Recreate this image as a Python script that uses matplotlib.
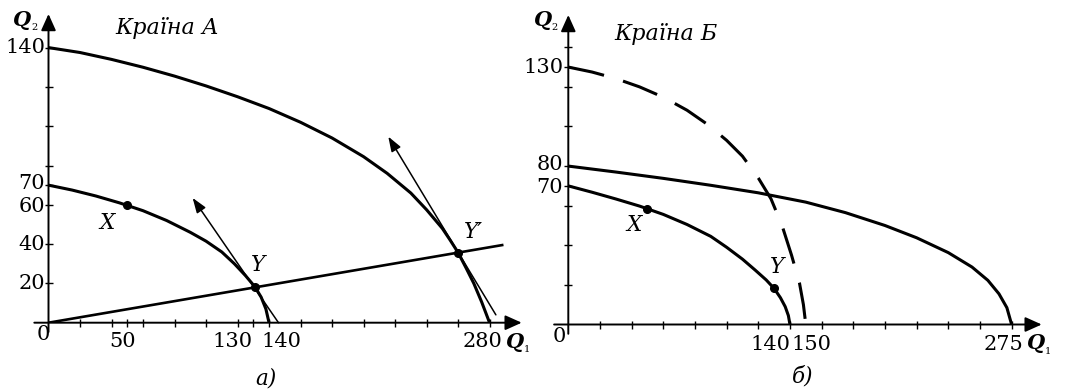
import matplotlib.pyplot as plt

# ---- data ----
# panel a) country A
a_inner_q1 = [0, 15, 30, 45, 60, 75, 90, 100, 110, 118, 125, 131, 135, 138, 140]
a_inner_q2 = [70, 67.5, 64.5, 61, 57, 52, 46, 41.5, 36, 30, 24, 18.3, 13, 7, 0]
a_outer_q1 = [0, 20, 40, 60, 80, 100, 120, 140, 160, 180, 200, 215, 230, 240, 250,
              255, 260, 265, 270, 275, 280]
a_outer_q2 = [140, 137.5, 134, 130, 125.5, 120.5, 115, 109, 102, 94, 84.5, 76, 66, 57.5, 48,
              42, 35.7, 28, 20, 10.5, 0]
a_ray_q1 = [0, 288]
a_ray_q2 = [0, 39.5]
a_tan_inner = [(146, 0), (91.5, 63.5)]
a_tan_outer = [(284, 4), (215.7, 94.7)]
a_points = {"X": (50, 59.7), "Y": (131, 18.3), "Y'": (260, 35.7)}
a_xticks = [20, 40, 50, 60, 80, 100, 120, 130, 140, 160, 180, 200, 220, 240, 260, 280]
a_yticks = [20, 40, 60, 70, 80, 100, 120, 140]
a_xlabels = [50, 130, 140, 280]
a_ylabels = [20, 40, 60, 70, 140]

# panel б) country Б
b_inner_q1 = [0, 15, 30, 45, 60, 75, 90, 100, 110, 118, 125, 130, 134, 137, 139, 140]
b_inner_q2 = [70, 66.8, 63.4, 59.8, 55.6, 50.5, 44.5, 39, 33, 27.5, 22.5, 18.2, 13.5, 9, 4.5, 0]
b_outer_q1 = [0, 30, 60, 90, 120, 150, 175, 200, 220, 240, 255, 265, 272, 277, 280]
b_outer_q2 = [80, 77, 73.8, 70.3, 66.5, 61.8, 56.5, 50, 43.8, 36.3, 29, 22.3, 15.5, 8.5, 0]
b_dash_q1 = [0, 15, 30, 45, 60, 75, 88, 100, 110, 120, 128, 135, 141, 146, 148.5, 150]
b_dash_q2 = [130, 127.5, 124.2, 120, 114.8, 108.2, 101, 93, 85, 74, 63.5, 50, 35, 21, 10, 0]
b_points = {"X": (50, 58.3), "Y": (130, 18.2)}
b_xticks = [20, 40, 60, 80, 100, 120, 140, 160, 180, 200, 220, 240, 260, 280]
b_yticks = [20, 40, 60, 70, 80, 100, 120, 130, 140]
b_xlabels = [140, 150, 275]
b_ylabels = [70, 80, 130]

W, H = 1068, 390
SERIF = "DejaVu Serif"
TICK_FS = 15


def px(x, y):
    return x / W, 1 - y / H


def setup_axes(fig, x0, y0, x1, y1, xmax, ymax):
    # axes box runs from the origin to the arrow tips (pixel coords)
    ax = fig.add_axes([x0 / W, 1 - y0 / H, (x1 - x0) / W, (y0 - y1) / H])
    ax.set_xlim(0, xmax)
    ax.set_ylim(0, ymax)
    for s in ax.spines.values():
        s.set_visible(False)
    arrow = dict(arrowstyle="-|>,head_length=1.0,head_width=0.45",
                 color="k", lw=1.4, shrinkA=0, shrinkB=0)
    ax.annotate("", xy=(xmax, 0), xytext=(-xmax * 0.03, 0),
                arrowprops=arrow, annotation_clip=False)
    ax.annotate("", xy=(0, ymax), xytext=(0, -ymax * 0.03),
                arrowprops=arrow, annotation_clip=False)
    ax.tick_params(direction="inout", length=6, width=1,
                   labelbottom=False, labelleft=False)
    ax.patch.set_alpha(0)
    return ax


def tick_label(ax, text, xy, dx, dy, ha="center"):
    # offsets given in pixels
    ax.annotate(text, xy=xy, xytext=(dx * 0.72, -dy * 0.72),
                textcoords="offset points", ha=ha, va="center",
                fontsize=TICK_FS, family=SERIF, annotation_clip=False)


def point_label(ax, text, xy):
    ax.text(xy[0], xy[1], text, fontsize=15.5, family=SERIF, style="italic",
            ha="center", va="center")


def q_label(fig, x, y, sub):
    fig.text(*px(x, y), "Q", fontsize=15, family=SERIF, style="italic",
             weight="bold", ha="center", va="center")
    fig.text(*px(x + 12, y + 8), sub, fontsize=7, family=SERIF,
             ha="center", va="center")


fig = plt.figure(figsize=(W / 100, H / 100), dpi=100)

curve = dict(color="k", lw=2.2, solid_capstyle="butt", solid_joinstyle="round")
thin_arrow = dict(arrowstyle="-|>,head_length=0.9,head_width=0.32",
                  color="k", lw=1.1, shrinkA=0, shrinkB=0)

# ---------------- panel a) ----------------
ax = setup_axes(fig, 48.5, 322.7, 521.7, 14, 300.4, 157.1)
ax.set_xticks(a_xticks)
ax.set_yticks(a_yticks)
ax.plot(a_inner_q1, a_inner_q2, **curve)
ax.plot(a_outer_q1, a_outer_q2, **curve)
ax.plot(a_ray_q1, a_ray_q2, color="k", lw=1.9)
for tan in (a_tan_inner, a_tan_outer):
    ax.annotate("", xy=tan[1], xytext=tan[0], arrowprops=thin_arrow)
for name, (q1, q2) in a_points.items():
    ax.plot(q1, q2, "o", color="k", ms=5.5)
point_label(ax, "X", (37, 50.5))
point_label(ax, "Y", (133, 29.2))
point_label(ax, "Y\u2032", (269.5, 46.2))

a_xoff = {50: -5, 130: -21, 140: 12, 280: -7}
for v in a_xlabels:
    tick_label(ax, str(v), (v, 0), a_xoff[v], 19)
# 70 and 60 sit very close, spread them a touch
a_yoff = {70: -1.5, 60: 1.5}
for v in a_ylabels:
    tick_label(ax, str(v), (0, v), -3.5, a_yoff.get(v, 0), ha="right")
tick_label(ax, "0", (0, 0), -5, 12)

fig.text(*px(167, 34), "Країна А", fontsize=16, family=SERIF,
         style="italic", ha="center", va="baseline")
fig.text(*px(266, 379), "а)", fontsize=15.5, family=SERIF,
         style="italic", ha="center", va="center")
q_label(fig, 22, 20, "2")
q_label(fig, 515, 342, "1")

# ---------------- panel б) ----------------
bx = setup_axes(fig, 568.3, 324.5, 1041.7, 15, 299, 156.3)
bx.set_xticks(b_xticks)
bx.set_yticks(b_yticks)
bx.plot(b_inner_q1, b_inner_q2, **curve)
bx.plot(b_outer_q1, b_outer_q2, **curve)
bx.plot(b_dash_q1, b_dash_q2, color="k", lw=2.2, dashes=(12, 6.5))
for name, (q1, q2) in b_points.items():
    bx.plot(q1, q2, "o", color="k", ms=5.5)
point_label(bx, "X", (41.5, 50.3))
point_label(bx, "Y", (132, 29.2))

tick_label(bx, "140", (140, 0), 0, 20, ha="right")
tick_label(bx, "150", (140, 0), 1, 20, ha="left")
tick_label(bx, "275", (275, 0), 0, 20)
b_yoff = {80: -1.5, 70: 1.5}
for v in b_ylabels:
    tick_label(bx, str(v), (0, v), -5, b_yoff.get(v, 0), ha="right")
tick_label(bx, "0", (0, 0), -9, 12)

fig.text(*px(666, 40), "Країна Б", fontsize=16, family=SERIF,
         style="italic", ha="center", va="baseline")
fig.text(*px(803, 377), "б)", fontsize=15.5, family=SERIF,
         style="italic", ha="center", va="center")
q_label(fig, 543, 19.5, "2")
q_label(fig, 1036, 343, "1")

fig.savefig("out.png", dpi=100)
